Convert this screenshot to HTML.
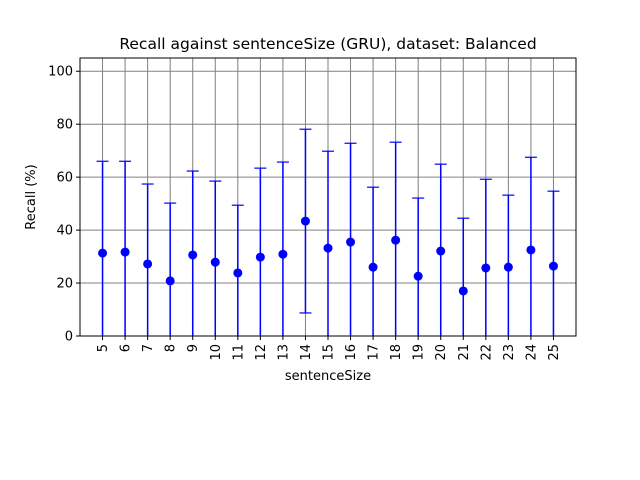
<!DOCTYPE html>
<html><head><meta charset="utf-8"><style>
body{margin:0;background:#fff;}
svg{display:block;font-family:"DejaVu Sans","Liberation Sans",sans-serif;}
</style></head><body>
<svg id="chart" width="640" height="480" xmlns="http://www.w3.org/2000/svg"></svg>
<script>
const categories=[5,6,7,8,9,10,11,12,13,14,15,16,17,18,19,20,21,22,23,24,25];
const means=[31.3,31.7,27.2,20.8,30.6,27.9,23.8,29.8,30.9,43.4,33.2,35.5,26,36.2,22.6,32.1,17,25.7,26,32.5,26.4];
const errors=[34.7,34.3,30.2,29.4,31.7,30.6,25.6,33.6,34.8,34.7,36.6,37.3,30.2,37,29.5,32.8,27.5,33.5,27.2,35,28.3];
const yTicks=[0,20,40,60,80,100];
const L=80,R=576,T=58,B=336;
const NS="http://www.w3.org/2000/svg";
const svg=document.getElementById('chart');
const xs=i=>L+(i+1)*(R-L)/(categories.length+1);
const ys=v=>B-(v/105)*(B-T);
function mk(tag,attrs,parent){const e=document.createElementNS(NS,tag);for(const k in attrs)e.setAttribute(k,attrs[k]);(parent||svg).appendChild(e);return e;}
const grid=mk('g',{});


categories.forEach((c,i)=>{mk('line',{x1:xs(i),x2:xs(i),y1:T,y2:B,stroke:'#808080','stroke-width':1},grid);});
yTicks.forEach(t=>{mk('line',{x1:L,x2:R,y1:ys(t),y2:ys(t),stroke:'#808080','stroke-width':1},grid);});
const series=mk('g',{});


categories.forEach((c,i)=>{
  const x=xs(i),hi=Math.min(105,means[i]+errors[i]),lo=Math.max(0,means[i]-errors[i]);
  const eb=mk('line',{x1:x,x2:x,y1:ys(lo),y2:ys(hi),stroke:'#0000ff','stroke-width':1.5},series);
  
  
  mk('line',{x1:x-6,x2:x+6,y1:ys(hi),y2:ys(hi),stroke:'#0000ff','stroke-width':1.2},series);
  if(means[i]-errors[i]>0) mk('line',{x1:x-6,x2:x+6,y1:ys(lo),y2:ys(lo),stroke:'#0000ff','stroke-width':1.2},series);
  const p=mk('circle',{cx:x,cy:ys(means[i]),r:4.5,fill:'#0000ff'},series);
  
  
});
const ax=mk('rect',{x:L,y:T,width:R-L,height:B-T,fill:'none',stroke:'#000','stroke-width':1});


yTicks.forEach(t=>{
  mk('line',{x1:L-4,x2:L,y1:ys(t),y2:ys(t),stroke:'#000'});
  const tx=mk('text',{x:L-7,y:ys(t)+4.5,'text-anchor':'end','font-size':13});
  tx.textContent=t;
  
  
});
categories.forEach((c,i)=>{
  const x=xs(i);
  mk('line',{x1:x,x2:x,y1:B,y2:B+4,stroke:'#000'});
  const tx=mk('text',{x:x+4.5,y:B+8,'text-anchor':'end','font-size':13,transform:`rotate(-90 ${x+4.5} ${B+8})`});
  tx.textContent=c;
  
  
});
const title=mk('text',{x:328,y:49,'text-anchor':'middle','font-size':15.5});
title.textContent='Recall against sentenceSize (GRU), dataset: Balanced';


const xl=mk('text',{x:328,y:380,'text-anchor':'middle','font-size':13});
xl.textContent='sentenceSize';


const yl=mk('text',{x:35,y:197,'text-anchor':'middle','font-size':13,transform:'rotate(-90 35 197)'});
yl.textContent='Recall (%)';


</script>
</body></html>
